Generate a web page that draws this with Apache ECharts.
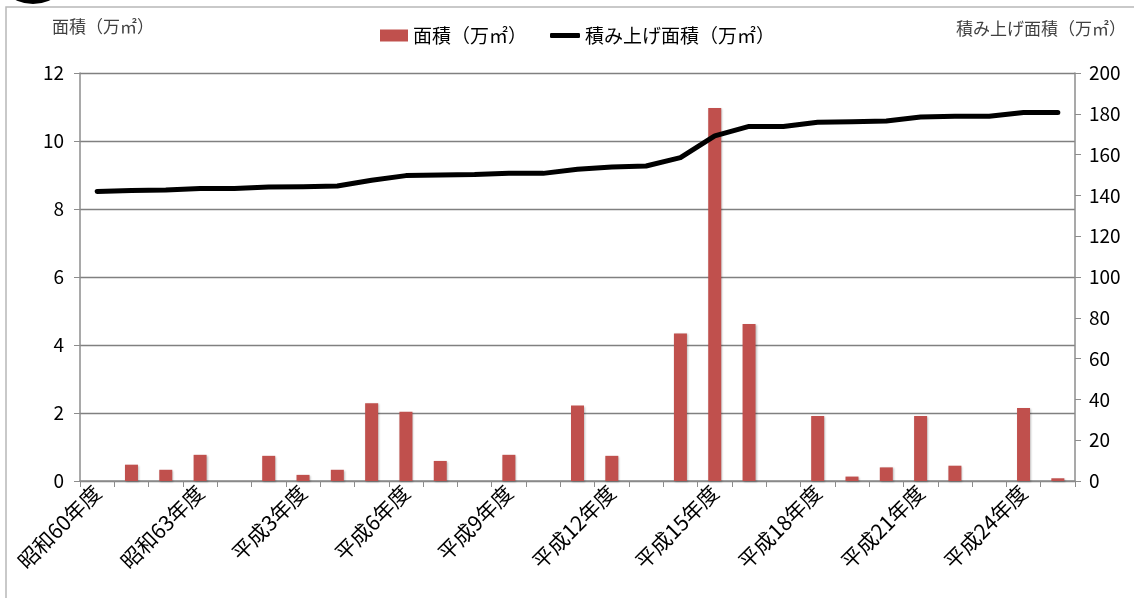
<!DOCTYPE html>
<html><head><meta charset="utf-8">
<script src="https://cdn.jsdelivr.net/npm/echarts@6/dist/echarts.min.js"></script>
<style>html,body{margin:0;padding:0;background:#fff}#c{width:1134px;height:598px}</style>
</head><body><div id="c"></div>
<script>
const categories = ['昭和60年度','昭和61年度','昭和62年度','昭和63年度','平成元年度','平成2年度','平成3年度','平成4年度','平成5年度','平成6年度','平成7年度','平成8年度','平成9年度','平成10年度','平成11年度','平成12年度','平成13年度','平成14年度','平成15年度','平成16年度','平成17年度','平成18年度','平成19年度','平成20年度','平成21年度','平成22年度','平成23年度','平成24年度','平成25年度'];
const areaValues = [0,0.48,0.33,0.77,0,0.74,0.18,0.33,2.29,2.04,0.59,0,0.77,0,2.22,0.74,0,4.34,10.97,4.62,0,1.91,0.13,0.40,1.91,0.45,0,2.15,0.08];
const cumulativeValues = [141.9,142.4,142.7,143.4,143.4,144.1,144.2,144.6,147.4,149.7,150.0,150.2,150.8,150.8,152.8,153.9,154.4,158.5,169.2,173.8,173.8,175.9,176.1,176.5,178.4,178.8,178.8,180.6,180.6];
const leftTicks = {min:0, max:12, interval:2};
const rightTicks = {min:0, max:200, interval:20};

const chart = echarts.init(document.getElementById('c'));
const sans = '"Noto Sans CJK JP", "Noto Sans", sans-serif';
const serif = '"DejaVu Serif", "Noto Sans CJK JP", serif';
chart.setOption({
  animation:false,
  backgroundColor:'#fff',
  textStyle:{fontFamily:sans},
  graphic:[
    {type:'rect', shape:{x:6,y:7,width:1140,height:610}, style:{fill:'none', stroke:'#b8b8b8', lineWidth:1.5}, z:-1},
    {type:'circle', shape:{cx:33,cy:-36,r:40}, style:{fill:'#000'}},
    {type:'text', left:52, top:20, style:{text:'面積（万㎡）', font:'17px '+serif, fill:'#404040'}},
    {type:'text', right:8, top:22, style:{text:'積み上げ面積（万㎡）', font:'17px '+serif, fill:'#404040'}}
  ],
  legend:[
    {left:375, top:21, itemWidth:28, itemHeight:12,
     textStyle:{fontSize:19, color:'#000', fontFamily:sans},
     data:[{name:'面積（万㎡）', icon:'rect'}]},
    {left:545, top:21, itemWidth:30, itemHeight:5,
     textStyle:{fontSize:19, color:'#000', fontFamily:sans},
     data:[{name:'積み上げ面積（万㎡）', icon:'roundRect'}]}
  ],
  grid:{left:80, right:59, top:73, bottom:117},
  xAxis:{
    type:'category', data:categories, boundaryGap:true,
    axisLine:{lineStyle:{color:'#8c8c8c', width:1.5}},
    axisTick:{show:true, interval:0, length:6, lineStyle:{color:'#8c8c8c'}},
    axisLabel:{interval:2, rotate:45, fontSize:21, color:'#000', margin:8, fontFamily:sans}
  },
  yAxis:[
    {type:'value', min:leftTicks.min, max:leftTicks.max, interval:leftTicks.interval,
     axisLine:{show:true, lineStyle:{color:'#8c8c8c', width:1.5}},
     axisTick:{show:true, length:6, lineStyle:{color:'#8c8c8c'}},
     axisLabel:{fontSize:19, color:'#000', margin:16, fontFamily:sans},
     splitLine:{lineStyle:{color:'#808080', width:1.3}}},
    {type:'value', min:rightTicks.min, max:rightTicks.max, interval:rightTicks.interval,
     axisLine:{show:true, lineStyle:{color:'#8c8c8c', width:1.5}},
     axisTick:{show:true, length:6, lineStyle:{color:'#8c8c8c'}},
     axisLabel:{fontSize:19, color:'#000', margin:14, fontFamily:sans},
     splitLine:{show:false}}
  ],
  series:[
    {name:'面積（万㎡）', type:'bar', yAxisIndex:0, data:areaValues, barWidth:13,
     itemStyle:{color:'#c0504d', shadowColor:'rgba(0,0,0,0.25)', shadowBlur:2, shadowOffsetX:1, shadowOffsetY:1}},
    {name:'積み上げ面積（万㎡）', type:'line', yAxisIndex:1, data:cumulativeValues,
     symbol:'none', lineStyle:{color:'#000', width:5, cap:'round', join:'round'}, itemStyle:{color:'#000'}, z:3}
  ]
});
</script></body></html>
